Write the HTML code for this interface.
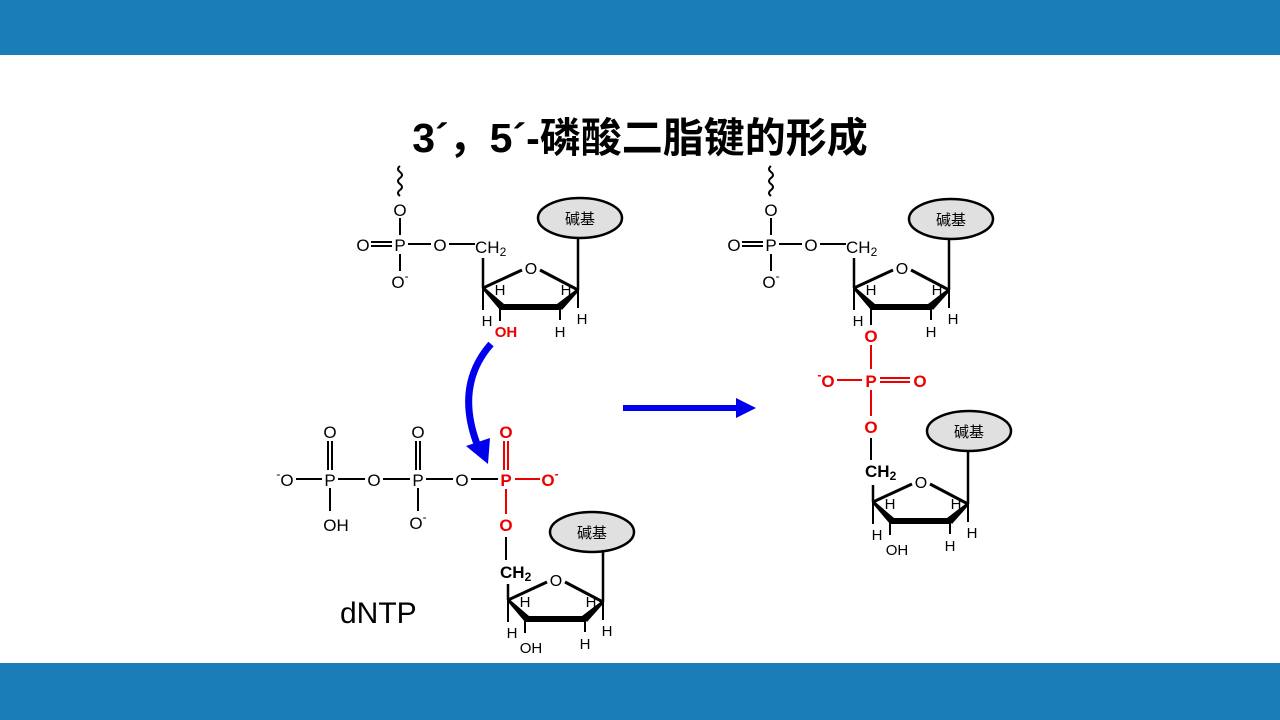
<!DOCTYPE html>
<html><head><meta charset="utf-8"><style>
body{margin:0;width:1280px;height:720px;overflow:hidden;background:#fff}
svg{display:block}
text{font-family:"Liberation Sans",Arial,sans-serif}
</style></head><body>
<svg width="1280" height="720" viewBox="0 0 1280 720" xmlns="http://www.w3.org/2000/svg">
<defs>
<g id="sug">
  <line x1="-48" y1="20" x2="-9" y2="2" stroke="#000" stroke-width="3"/>
  <line x1="9" y1="2" x2="47" y2="22" stroke="#000" stroke-width="3"/>
  <text x="0" y="6" font-size="16" text-anchor="middle">O</text>
  <polygon points="-48,18 -48,22 -31,42 -27,36" fill="#000"/>
  <line x1="-31" y1="39" x2="29" y2="39" stroke="#000" stroke-width="6"/>
  <polygon points="47,20 47,24 31,42 26,36" fill="#000"/>
  <line x1="47" y1="22" x2="47" y2="-30" stroke="#000" stroke-width="2.5"/>
  <line x1="-48" y1="20" x2="-48" y2="42" stroke="#000" stroke-width="2"/>
  <line x1="47" y1="22" x2="47" y2="40" stroke="#000" stroke-width="2"/>
  <line x1="29" y1="39" x2="29" y2="52" stroke="#000" stroke-width="2"/>
  <text x="-31" y="27" font-size="15" text-anchor="middle">H</text>
  <text x="35" y="27" font-size="15" text-anchor="middle">H</text>
  <text x="-44" y="58" font-size="15" text-anchor="middle">H</text>
  <text x="29" y="69" font-size="15" text-anchor="middle">H</text>
  <text x="51" y="56" font-size="15" text-anchor="middle">H</text>
</g>
</defs>
<rect x="0" y="0" width="1280" height="55" fill="#1a7db8"/>
<rect x="0" y="663" width="1280" height="57" fill="#1a7db8"/>
<text x="640" y="152" font-size="41" font-weight="bold" text-anchor="middle" style='font-family:"Liberation Sans","Noto Sans CJK SC",sans-serif'>3´，5´-磷酸二脂键的形成</text>

<!-- top-left nucleotide -->
<g font-size="17">
<path d="M400,166 q-4,3 0,6 q4,3 0,6 q-4,3 0,6 q4,3 0,6 q-4,3 0,6" fill="none" stroke="#000" stroke-width="2"/>
<text x="400" y="216" text-anchor="middle">O</text>
<line x1="400" y1="218" x2="400" y2="235" stroke="#000" stroke-width="2"/>
<text x="400" y="251" text-anchor="middle">P</text>
<line x1="371" y1="242" x2="392" y2="242" stroke="#000" stroke-width="2"/><line x1="371" y1="246" x2="392" y2="246" stroke="#000" stroke-width="2"/>
<text x="363" y="251" text-anchor="middle">O</text>
<line x1="400" y1="254" x2="400" y2="271" stroke="#000" stroke-width="2"/>
<text x="400" y="288" text-anchor="middle">O<tspan font-size="12" dy="-8">-</tspan></text>
<line x1="408" y1="244" x2="431" y2="244" stroke="#000" stroke-width="2"/>
<text x="440" y="251" text-anchor="middle">O</text>
<line x1="449" y1="244" x2="475" y2="244" stroke="#000" stroke-width="2"/>
<text x="475" y="253">CH<tspan font-size="12" dy="3">2</tspan></text>
</g>
<line x1="483" y1="288" x2="483" y2="258" stroke="#000" stroke-width="2.5"/>
<ellipse cx="580" cy="218" rx="42" ry="20" fill="#e0e0e0" stroke="#000" stroke-width="2.5"/>
<text x="580" y="224" font-size="15" text-anchor="middle" style='font-family:"Noto Sans CJK SC",sans-serif'>碱基</text>
<use href="#sug" x="531" y="268"/>
<line x1="500" y1="307" x2="500" y2="321" stroke="#000" stroke-width="2"/>
<text x="506" y="337" font-size="15" font-weight="bold" fill="#e00" text-anchor="middle">OH</text>

<!-- arrows -->
<path d="M491,344 Q455,385 477,444" fill="none" stroke="#0000ee" stroke-width="7"/>
<polygon points="466,446 490,438 488,464" fill="#0000ee"/>
<line x1="623" y1="408" x2="740" y2="408" stroke="#0000ee" stroke-width="6"/>
<polygon points="736,398 756,408 736,418" fill="#0000ee"/>

<!-- dNTP -->
<g font-size="17">
<text x="285" y="486" text-anchor="middle"><tspan font-size="12" dy="-8">-</tspan><tspan dy="8">O</tspan></text>
<line x1="296" y1="479" x2="322" y2="479" stroke="#000" stroke-width="2"/>
<text x="330" y="486" text-anchor="middle">P</text>
<line x1="328" y1="441" x2="328" y2="470" stroke="#000" stroke-width="2"/><line x1="332" y1="441" x2="332" y2="470" stroke="#000" stroke-width="2"/>
<text x="330" y="438" text-anchor="middle">O</text>
<line x1="330" y1="488" x2="330" y2="511" stroke="#000" stroke-width="2"/>
<text x="336" y="531" text-anchor="middle">OH</text>
<line x1="338" y1="479" x2="365" y2="479" stroke="#000" stroke-width="2"/>
<text x="374" y="486" text-anchor="middle">O</text>
<line x1="383" y1="479" x2="410" y2="479" stroke="#000" stroke-width="2"/>
<text x="418" y="486" text-anchor="middle">P</text>
<line x1="416" y1="441" x2="416" y2="470" stroke="#000" stroke-width="2"/><line x1="420" y1="441" x2="420" y2="470" stroke="#000" stroke-width="2"/>
<text x="418" y="438" text-anchor="middle">O</text>
<line x1="418" y1="488" x2="418" y2="511" stroke="#000" stroke-width="2"/>
<text x="418" y="529" text-anchor="middle">O<tspan font-size="12" dy="-8">-</tspan></text>
<line x1="426" y1="479" x2="453" y2="479" stroke="#000" stroke-width="2"/>
<text x="462" y="486" text-anchor="middle">O</text>
<line x1="471" y1="479" x2="498" y2="479" stroke="#000" stroke-width="2"/>
<g fill="#e00" font-weight="bold">
<text x="506" y="486" text-anchor="middle">P</text>
<line x1="504" y1="441" x2="504" y2="470" stroke="#e00" stroke-width="2"/><line x1="508" y1="441" x2="508" y2="470" stroke="#e00" stroke-width="2"/>
<text x="506" y="438" text-anchor="middle">O</text>
<line x1="515" y1="479" x2="540" y2="479" stroke="#e00" stroke-width="2"/>
<text x="550" y="486" text-anchor="middle">O<tspan font-size="12" dy="-8">-</tspan></text>
<line x1="506" y1="489" x2="506" y2="514" stroke="#e00" stroke-width="2"/>
<text x="506" y="531" text-anchor="middle">O</text>
</g>
<line x1="506" y1="537" x2="506" y2="560" stroke="#000" stroke-width="2"/>
<text x="500" y="578" font-weight="bold">CH<tspan font-size="12" dy="3">2</tspan></text>
</g>
<line x1="508" y1="600" x2="508" y2="584" stroke="#000" stroke-width="2.5"/>
<ellipse cx="592" cy="532" rx="42" ry="20" fill="#e0e0e0" stroke="#000" stroke-width="2.5"/>
<text x="592" y="538" font-size="15" text-anchor="middle" style='font-family:"Noto Sans CJK SC",sans-serif'>碱基</text>
<use href="#sug" x="556" y="580"/>
<line x1="525" y1="619" x2="525" y2="633" stroke="#000" stroke-width="2"/>
<text x="531" y="653" font-size="15" text-anchor="middle">OH</text>
<text x="340" y="623" font-size="30">dNTP</text>

<!-- right product -->
<g font-size="17">
<path d="M771,166 q-4,3 0,6 q4,3 0,6 q-4,3 0,6 q4,3 0,6 q-4,3 0,6" fill="none" stroke="#000" stroke-width="2"/>
<text x="771" y="216" text-anchor="middle">O</text>
<line x1="771" y1="218" x2="771" y2="235" stroke="#000" stroke-width="2"/>
<text x="771" y="251" text-anchor="middle">P</text>
<line x1="742" y1="242" x2="763" y2="242" stroke="#000" stroke-width="2"/><line x1="742" y1="246" x2="763" y2="246" stroke="#000" stroke-width="2"/>
<text x="734" y="251" text-anchor="middle">O</text>
<line x1="771" y1="254" x2="771" y2="271" stroke="#000" stroke-width="2"/>
<text x="771" y="288" text-anchor="middle">O<tspan font-size="12" dy="-8">-</tspan></text>
<line x1="779" y1="244" x2="802" y2="244" stroke="#000" stroke-width="2"/>
<text x="811" y="251" text-anchor="middle">O</text>
<line x1="820" y1="244" x2="846" y2="244" stroke="#000" stroke-width="2"/>
<text x="846" y="253">CH<tspan font-size="12" dy="3">2</tspan></text>
</g>
<line x1="854" y1="288" x2="854" y2="258" stroke="#000" stroke-width="2.5"/>
<ellipse cx="951" cy="219" rx="42" ry="20" fill="#e0e0e0" stroke="#000" stroke-width="2.5"/>
<text x="951" y="225" font-size="15" text-anchor="middle" style='font-family:"Noto Sans CJK SC",sans-serif'>碱基</text>
<use href="#sug" x="902" y="268"/>
<line x1="871" y1="307" x2="871" y2="325" stroke="#000" stroke-width="2"/>
<g font-size="17" font-weight="bold" fill="#e00">
<text x="871" y="342" text-anchor="middle">O</text>
<line x1="871" y1="345" x2="871" y2="369" stroke="#e00" stroke-width="2"/>
<text x="871" y="387" text-anchor="middle">P</text>
<text x="826" y="387" text-anchor="middle"><tspan font-size="12" dy="-8">-</tspan><tspan dy="8">O</tspan></text>
<line x1="837" y1="380" x2="862" y2="380" stroke="#e00" stroke-width="2"/>
<line x1="880" y1="378" x2="910" y2="378" stroke="#e00" stroke-width="2"/><line x1="880" y1="382" x2="910" y2="382" stroke="#e00" stroke-width="2"/>
<text x="920" y="387" text-anchor="middle">O</text>
<line x1="871" y1="390" x2="871" y2="416" stroke="#e00" stroke-width="2"/>
<text x="871" y="433" text-anchor="middle">O</text>
</g>
<line x1="871" y1="438" x2="871" y2="460" stroke="#000" stroke-width="2"/>
<text x="865" y="477" font-size="17" font-weight="bold">CH<tspan font-size="12" dy="3">2</tspan></text>
<line x1="873" y1="502" x2="873" y2="485" stroke="#000" stroke-width="2.5"/>
<ellipse cx="969" cy="431" rx="42" ry="20" fill="#e0e0e0" stroke="#000" stroke-width="2.5"/>
<text x="969" y="437" font-size="15" text-anchor="middle" style='font-family:"Noto Sans CJK SC",sans-serif'>碱基</text>
<use href="#sug" x="921" y="482"/>
<line x1="890" y1="521" x2="890" y2="535" stroke="#000" stroke-width="2"/>
<text x="897" y="555" font-size="15" text-anchor="middle">OH</text>
</svg>
</body></html>
